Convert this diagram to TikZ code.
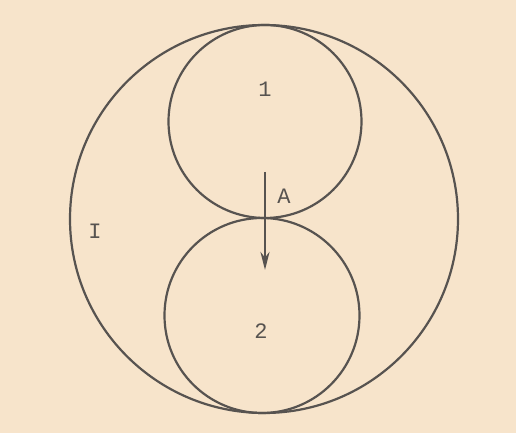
\documentclass[tikz,border=0pt]{standalone}
\usepackage{fontspec}
\setmonofont{Liberation Mono}
\usetikzlibrary{arrows.meta}
\definecolor{paper}{HTML}{F7E4CB}
\definecolor{pencil}{HTML}{575350}
\tikzset{
  ring/.style={draw=pencil, line width=1.1pt},
  mark-label/.style={font=\ttfamily\fontsize{11}{13}\selectfont, text=pencil, inner sep=0pt},
  flow/.style={-{Stealth[length=3.2mm, width=1.6mm]}, line width=1pt, draw=pencil}
}

\begin{document}
\begin{tikzpicture}[x=0.5pt, y=-0.5pt]

\fill[paper] (0,0) rectangle (516,433);
\useasboundingbox (0,0) rectangle (516,433);

\draw[ring] (264,219) circle[radius=194];
\draw[ring] (265,121.5) circle[radius=96.5];
\draw[ring] (262,315.5) circle[radius=97.5];

\node[mark-label] (one) at (265,89) {1};
\node[mark-label] (two) at (261,331) {2};
\node[mark-label] (pointA) at (284,196) {A};
\node[mark-label] (outer) at (95,231) {I};

\coordinate (start) at (265,172);
\coordinate (stop) at (265,270);
\draw[flow] (start) -- (stop);

\end{tikzpicture}
\end{document}
